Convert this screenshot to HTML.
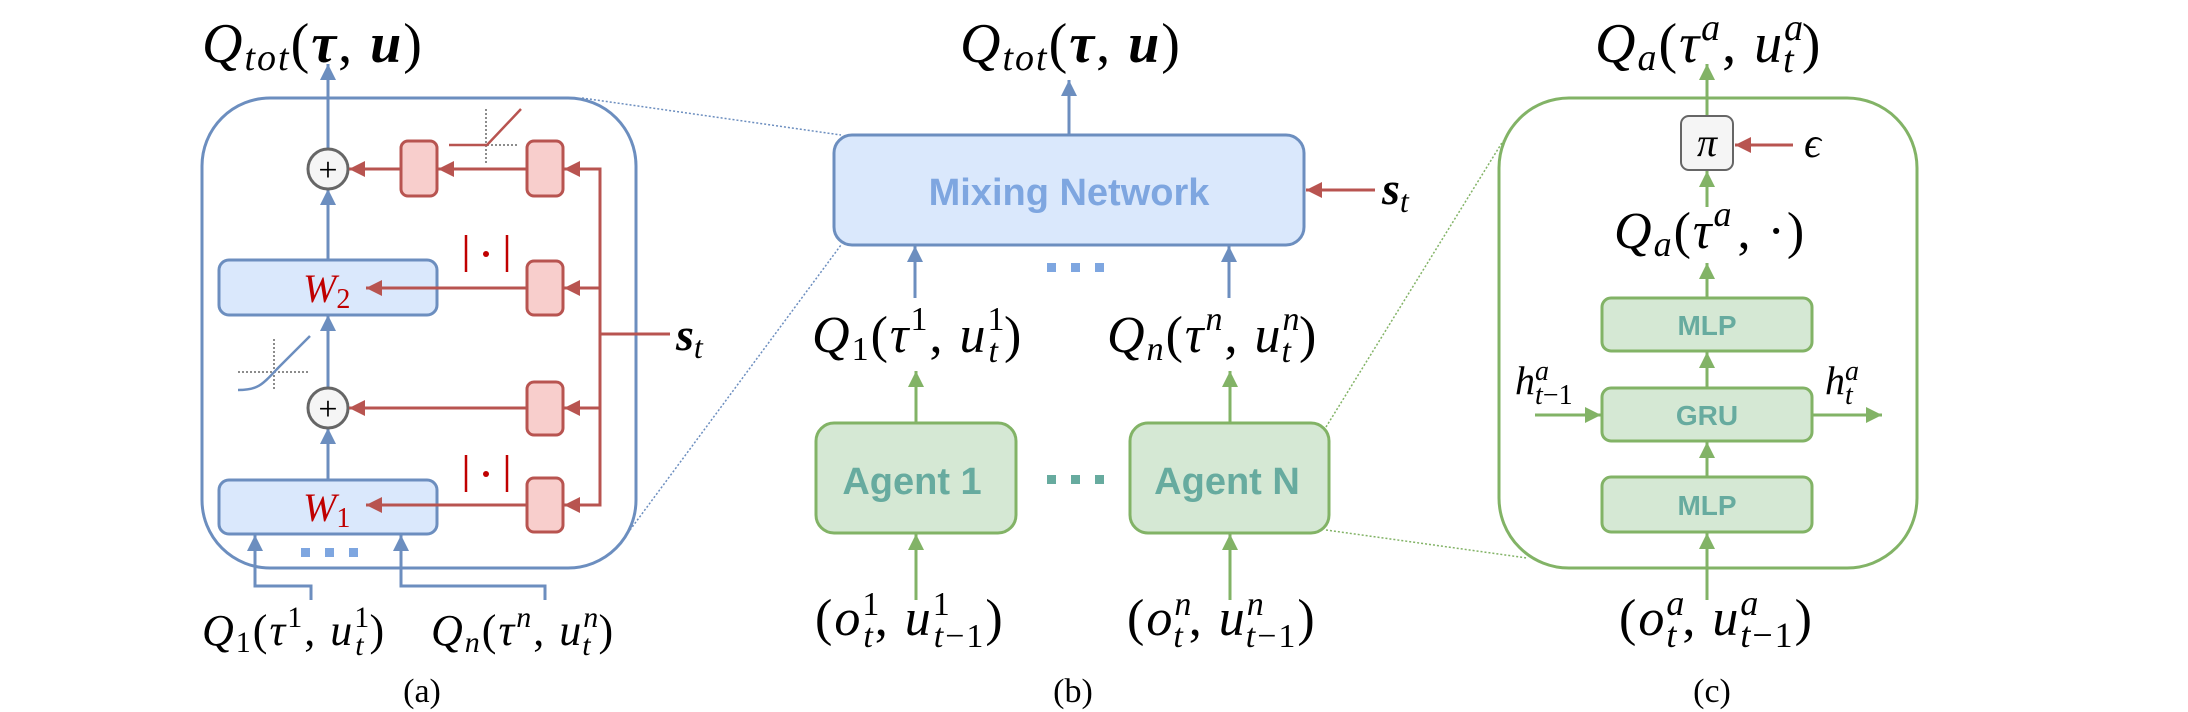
<!DOCTYPE html>
<html><head><meta charset="utf-8"><style>
html,body{margin:0;padding:0;background:#fff;}
svg{display:block;}
text{font-family:"Liberation Serif","DejaVu Serif",serif;fill:#000;}
.s{font-family:"Liberation Sans","DejaVu Sans",sans-serif;font-weight:bold;}
</style></head><body>
<svg width="2188" height="712" viewBox="0 0 2188 712" xmlns="http://www.w3.org/2000/svg">
<defs>
<marker id="ab" viewBox="0 0 10 10" refX="10" refY="5" markerWidth="18" markerHeight="16" markerUnits="userSpaceOnUse" orient="auto"><path d="M0,0L10,5L0,10z" fill="#6c8ebf"/></marker>
<marker id="ar" viewBox="0 0 10 10" refX="10" refY="5" markerWidth="18" markerHeight="16" markerUnits="userSpaceOnUse" orient="auto"><path d="M0,0L10,5L0,10z" fill="#b85450"/></marker>
<marker id="ag" viewBox="0 0 10 10" refX="10" refY="5" markerWidth="18" markerHeight="16" markerUnits="userSpaceOnUse" orient="auto"><path d="M0,0L10,5L0,10z" fill="#82b366"/></marker>
</defs>

<line x1="582" y1="98" x2="841" y2="135" stroke="#6c8ebf" stroke-width="1.5" stroke-dasharray="2,2"/>
<line x1="630" y1="530" x2="841" y2="245" stroke="#6c8ebf" stroke-width="1.5" stroke-dasharray="2,2"/>
<line x1="1326" y1="427" x2="1503" y2="141" stroke="#82b366" stroke-width="1.5" stroke-dasharray="2,2"/>
<line x1="1326" y1="530" x2="1527" y2="558" stroke="#82b366" stroke-width="1.5" stroke-dasharray="2,2"/>

<!-- (a) -->
<text x="202" y="62" font-size="56" font-style="italic" letter-spacing="2">Q<tspan font-size="38" dy="8">tot</tspan><tspan dy="-8" font-style="normal">(</tspan><tspan font-weight="bold">τ</tspan><tspan font-style="normal">, </tspan><tspan font-weight="bold">u</tspan><tspan font-style="normal">)</tspan></text>
<rect x="202" y="98" width="434" height="470" rx="68" fill="none" stroke="#6c8ebf" stroke-width="3"/>
<line x1="328" y1="149" x2="328" y2="64" stroke="#6c8ebf" stroke-width="3" marker-end="url(#ab)"/>
<line x1="328" y1="260" x2="328" y2="189" stroke="#6c8ebf" stroke-width="3" marker-end="url(#ab)"/>
<line x1="328" y1="388" x2="328" y2="315" stroke="#6c8ebf" stroke-width="3" marker-end="url(#ab)"/>
<line x1="328" y1="480" x2="328" y2="428" stroke="#6c8ebf" stroke-width="3" marker-end="url(#ab)"/>
<circle cx="328" cy="169" r="20" fill="#f5f5f5" stroke="#666" stroke-width="3"/>
<text x="328" y="181" font-size="34" text-anchor="middle">+</text>
<circle cx="328" cy="408" r="20" fill="#f5f5f5" stroke="#666" stroke-width="3"/>
<text x="328" y="420" font-size="34" text-anchor="middle">+</text>
<rect x="219" y="260" width="218" height="55" rx="10" fill="#dae8fc" stroke="#6c8ebf" stroke-width="3"/>
<rect x="219" y="480" width="218" height="54" rx="10" fill="#dae8fc" stroke="#6c8ebf" stroke-width="3"/>
<text x="303" y="302" font-size="40" font-style="italic" style="fill:#c00000">W<tspan font-size="28" font-style="normal" dy="6">2</tspan></text>
<text x="303" y="521" font-size="40" font-style="italic" style="fill:#c00000">W<tspan font-size="28" font-style="normal" dy="6">1</tspan></text>
<g fill="#f8cecc" stroke="#b85450" stroke-width="3">
<rect x="401" y="141" width="36" height="55" rx="7"/>
<rect x="527" y="141" width="36" height="55" rx="7"/>
<rect x="527" y="261" width="36" height="54" rx="7"/>
<rect x="527" y="382" width="36" height="53" rx="7"/>
<rect x="527" y="478" width="36" height="54" rx="7"/>
</g>
<g stroke="#b85450" stroke-width="3" fill="none">
<line x1="401" y1="169" x2="349" y2="169" marker-end="url(#ar)"/>
<line x1="527" y1="169" x2="438" y2="169" marker-end="url(#ar)"/>
<line x1="527" y1="288" x2="366" y2="288" marker-end="url(#ar)"/>
<line x1="527" y1="408" x2="349" y2="408" marker-end="url(#ar)"/>
<line x1="527" y1="505" x2="366" y2="505" marker-end="url(#ar)"/>
<polyline points="564,169 600,169 600,505 564,505"/>
<line x1="600" y1="169" x2="564" y2="169" marker-end="url(#ar)"/>
<line x1="600" y1="288" x2="564" y2="288" marker-end="url(#ar)"/>
<line x1="600" y1="408" x2="564" y2="408" marker-end="url(#ar)"/>
<line x1="600" y1="505" x2="564" y2="505" marker-end="url(#ar)"/>
<line x1="600" y1="334" x2="670" y2="334"/>
</g>
<text x="676" y="350" font-size="46" font-style="italic" font-weight="bold">s<tspan font-size="32" font-weight="normal" dy="8">t</tspan></text>
<g stroke="#c00000" stroke-width="2.5"><line x1="466" y1="235" x2="466" y2="272"/><line x1="507" y1="235" x2="507" y2="272"/><line x1="466" y1="455" x2="466" y2="492"/><line x1="507" y1="455" x2="507" y2="492"/></g>
<circle cx="486" cy="254" r="3" fill="#c00000"/><circle cx="486" cy="474" r="3" fill="#c00000"/>
<g stroke="#666" stroke-width="1.5" stroke-dasharray="2,2"><line x1="486" y1="109" x2="486" y2="164"/><line x1="487" y1="145" x2="519" y2="145"/>
<line x1="238" y1="372" x2="309" y2="372"/><line x1="274" y1="339" x2="274" y2="390"/></g>
<polyline points="449,145 487,145 521,109" fill="none" stroke="#b85450" stroke-width="2.5"/>
<path d="M238,390 C258,390 262,385 278,368 L310,336" fill="none" stroke="#6c8ebf" stroke-width="2.5"/>
<g fill="#7ea6e0"><rect x="301" y="548" width="9" height="9"/><rect x="325" y="548" width="9" height="9"/><rect x="349" y="548" width="9" height="9"/></g>
<polyline points="311,600 311,586 255,586 255,535" fill="none" stroke="#6c8ebf" stroke-width="3" marker-end="url(#ab)"/>
<polyline points="545,600 545,586 401,586 401,535" fill="none" stroke="#6c8ebf" stroke-width="3" marker-end="url(#ab)"/>
<text x="202" y="645" font-size="44" font-style="italic" letter-spacing="2">Q<tspan font-size="30" font-style="normal" dy="7">1</tspan><tspan dy="-7" font-style="normal">(</tspan>τ<tspan font-size="30" font-style="normal" dy="-18">1</tspan><tspan dy="18" font-style="normal">, </tspan>u<tspan font-size="30" dy="-18" font-style="normal">1</tspan><tspan font-size="30" dx="-16" dy="28">t</tspan><tspan dy="-10" dx="4" font-style="normal">)</tspan></text>
<text x="431" y="645" font-size="44" font-style="italic" letter-spacing="2">Q<tspan font-size="30" dy="7">n</tspan><tspan dy="-7" font-style="normal">(</tspan>τ<tspan font-size="30" dy="-18">n</tspan><tspan dy="18" font-style="normal">, </tspan>u<tspan font-size="30" dy="-18">n</tspan><tspan font-size="30" dx="-18" dy="28">t</tspan><tspan dy="-10" dx="6" font-style="normal">)</tspan></text>
<text x="422" y="702" font-size="34" text-anchor="middle">(a)</text>

<!-- (b) -->
<text x="960" y="62" font-size="56" font-style="italic" letter-spacing="2">Q<tspan font-size="38" dy="8">tot</tspan><tspan dy="-8" font-style="normal">(</tspan><tspan font-weight="bold">τ</tspan><tspan font-style="normal">, </tspan><tspan font-weight="bold">u</tspan><tspan font-style="normal">)</tspan></text>
<line x1="1069" y1="135" x2="1069" y2="80" stroke="#6c8ebf" stroke-width="3" marker-end="url(#ab)"/>
<rect x="834" y="135" width="470" height="110" rx="18" fill="#dae8fc" stroke="#6c8ebf" stroke-width="3"/>
<text x="1069" y="205" class="s" font-size="38" text-anchor="middle" style="fill:#7ea6e0">Mixing Network</text>
<line x1="1375" y1="190" x2="1306" y2="190" stroke="#b85450" stroke-width="3" marker-end="url(#ar)"/>
<text x="1382" y="204" font-size="46" font-style="italic" font-weight="bold">s<tspan font-size="32" font-weight="normal" dy="8">t</tspan></text>
<line x1="915" y1="298" x2="915" y2="246" stroke="#6c8ebf" stroke-width="3" marker-end="url(#ab)"/>
<line x1="1229" y1="298" x2="1229" y2="246" stroke="#6c8ebf" stroke-width="3" marker-end="url(#ab)"/>
<g fill="#7ea6e0"><rect x="1047" y="263" width="9" height="9"/><rect x="1071" y="263" width="9" height="9"/><rect x="1095" y="263" width="9" height="9"/></g>
<text x="812" y="352" font-size="52" font-style="italic" letter-spacing="2">Q<tspan font-size="34" font-style="normal" dy="8">1</tspan><tspan dy="-8" font-style="normal">(</tspan>τ<tspan font-size="34" font-style="normal" dy="-22">1</tspan><tspan dy="22" font-style="normal">, </tspan>u<tspan font-size="34" dy="-22" font-style="normal">1</tspan><tspan font-size="34" dx="-18" dy="32">t</tspan><tspan dy="-10" dx="4" font-style="normal">)</tspan></text>
<text x="1107" y="352" font-size="52" font-style="italic" letter-spacing="2">Q<tspan font-size="34" dy="8">n</tspan><tspan dy="-8" font-style="normal">(</tspan>τ<tspan font-size="34" dy="-22">n</tspan><tspan dy="22" font-style="normal">, </tspan>u<tspan font-size="34" dy="-22">n</tspan><tspan font-size="34" dx="-20" dy="32">t</tspan><tspan dy="-10" dx="6" font-style="normal">)</tspan></text>
<line x1="916" y1="423" x2="916" y2="371" stroke="#82b366" stroke-width="3" marker-end="url(#ag)"/>
<line x1="1230" y1="423" x2="1230" y2="371" stroke="#82b366" stroke-width="3" marker-end="url(#ag)"/>
<rect x="816" y="423" width="200" height="110" rx="18" fill="#d5e8d4" stroke="#82b366" stroke-width="3"/>
<rect x="1130" y="423" width="199" height="110" rx="18" fill="#d5e8d4" stroke="#82b366" stroke-width="3"/>
<text x="912" y="494" class="s" font-size="38" text-anchor="middle" style="fill:#67ab9f">Agent 1</text>
<text x="1227" y="494" class="s" font-size="38" text-anchor="middle" style="fill:#67ab9f">Agent N</text>
<g fill="#67ab9f"><rect x="1047" y="475" width="9" height="9"/><rect x="1071" y="475" width="9" height="9"/><rect x="1095" y="475" width="9" height="9"/></g>
<line x1="916" y1="600" x2="916" y2="534" stroke="#82b366" stroke-width="3" marker-end="url(#ag)"/>
<line x1="1230" y1="600" x2="1230" y2="534" stroke="#82b366" stroke-width="3" marker-end="url(#ag)"/>
<text x="815" y="635" font-size="52" font-style="italic" letter-spacing="2"><tspan font-style="normal">(</tspan>o<tspan font-size="34" font-style="normal" dy="-20">1</tspan><tspan font-size="34" dx="-18" dy="32">t</tspan><tspan dy="-12" font-style="normal">, </tspan>u<tspan font-size="34" font-style="normal" dy="-20">1</tspan><tspan font-size="34" dx="-18" dy="32">t</tspan><tspan font-size="34" font-style="normal">−1</tspan><tspan dy="-12" font-style="normal">)</tspan></text>
<text x="1127" y="635" font-size="52" font-style="italic" letter-spacing="2"><tspan font-style="normal">(</tspan>o<tspan font-size="34" dy="-20">n</tspan><tspan font-size="34" dx="-20" dy="32">t</tspan><tspan dy="-12" dx="4" font-style="normal">, </tspan>u<tspan font-size="34" dy="-20">n</tspan><tspan font-size="34" dx="-20" dy="32">t</tspan><tspan font-size="34" font-style="normal">−1</tspan><tspan dy="-12" font-style="normal">)</tspan></text>
<text x="1073" y="702" font-size="34" text-anchor="middle">(b)</text>

<!-- (c) -->
<text x="1595" y="62" font-size="56" font-style="italic" letter-spacing="2">Q<tspan font-size="38" dy="8">a</tspan><tspan dy="-8" font-style="normal">(</tspan>τ<tspan font-size="38" dy="-22">a</tspan><tspan dy="22" font-style="normal">, </tspan>u<tspan font-size="38" dy="-22">a</tspan><tspan font-size="38" dx="-22" dy="32">t</tspan><tspan dy="-10" dx="6" font-style="normal">)</tspan></text>
<rect x="1499" y="98" width="418" height="470" rx="70" fill="none" stroke="#82b366" stroke-width="3"/>
<line x1="1707" y1="116" x2="1707" y2="64" stroke="#82b366" stroke-width="3" marker-end="url(#ag)"/>
<rect x="1681" y="116" width="52" height="54" rx="8" fill="#f5f5f5" stroke="#666" stroke-width="2"/>
<text x="1707" y="156" font-size="40" font-style="italic" text-anchor="middle">π</text>
<line x1="1793" y1="145" x2="1735" y2="145" stroke="#b85450" stroke-width="3" marker-end="url(#ar)"/>
<text x="1804" y="157" font-size="42" font-style="italic">ϵ</text>
<line x1="1707" y1="207" x2="1707" y2="171" stroke="#82b366" stroke-width="3" marker-end="url(#ag)"/>
<text x="1614" y="248" font-size="52" font-style="italic" letter-spacing="2">Q<tspan font-size="36" dy="8">a</tspan><tspan dy="-8" font-style="normal">(</tspan>τ<tspan font-size="36" dy="-22">a</tspan><tspan dy="22" dx="4" font-style="normal">, ·)</tspan></text>
<line x1="1707" y1="298" x2="1707" y2="263" stroke="#82b366" stroke-width="3" marker-end="url(#ag)"/>
<rect x="1602" y="298" width="210" height="53" rx="9" fill="#d5e8d4" stroke="#82b366" stroke-width="3"/>
<rect x="1602" y="388" width="210" height="53" rx="9" fill="#d5e8d4" stroke="#82b366" stroke-width="3"/>
<rect x="1602" y="477" width="210" height="55" rx="9" fill="#d5e8d4" stroke="#82b366" stroke-width="3"/>
<text x="1707" y="335" class="s" font-size="28" text-anchor="middle" style="fill:#67ab9f">MLP</text>
<text x="1707" y="425" class="s" font-size="28" text-anchor="middle" style="fill:#67ab9f">GRU</text>
<text x="1707" y="515" class="s" font-size="28" text-anchor="middle" style="fill:#67ab9f">MLP</text>
<line x1="1707" y1="388" x2="1707" y2="352" stroke="#82b366" stroke-width="3" marker-end="url(#ag)"/>
<line x1="1707" y1="477" x2="1707" y2="442" stroke="#82b366" stroke-width="3" marker-end="url(#ag)"/>
<line x1="1707" y1="600" x2="1707" y2="533" stroke="#82b366" stroke-width="3" marker-end="url(#ag)"/>
<line x1="1535" y1="415" x2="1601" y2="415" stroke="#82b366" stroke-width="3" marker-end="url(#ag)"/>
<line x1="1812" y1="415" x2="1882" y2="415" stroke="#82b366" stroke-width="3" marker-end="url(#ag)"/>
<text x="1515" y="394" font-size="40" font-style="italic">h<tspan font-size="28" dy="-14">a</tspan><tspan font-size="28" dx="-14" dy="24">t</tspan><tspan font-size="28" font-style="normal">−1</tspan></text>
<text x="1825" y="394" font-size="40" font-style="italic">h<tspan font-size="28" dy="-14">a</tspan><tspan font-size="28" dx="-14" dy="24">t</tspan></text>
<text x="1619" y="635" font-size="52" font-style="italic" letter-spacing="2"><tspan font-style="normal">(</tspan>o<tspan font-size="36" dy="-20">a</tspan><tspan font-size="36" dx="-20" dy="32">t</tspan><tspan dy="-12" dx="4" font-style="normal">, </tspan>u<tspan font-size="36" dy="-20">a</tspan><tspan font-size="36" dx="-20" dy="32">t</tspan><tspan font-size="36" font-style="normal">−1</tspan><tspan dy="-12" font-style="normal">)</tspan></text>
<text x="1712" y="702" font-size="34" text-anchor="middle">(c)</text>
</svg>
</body></html>
